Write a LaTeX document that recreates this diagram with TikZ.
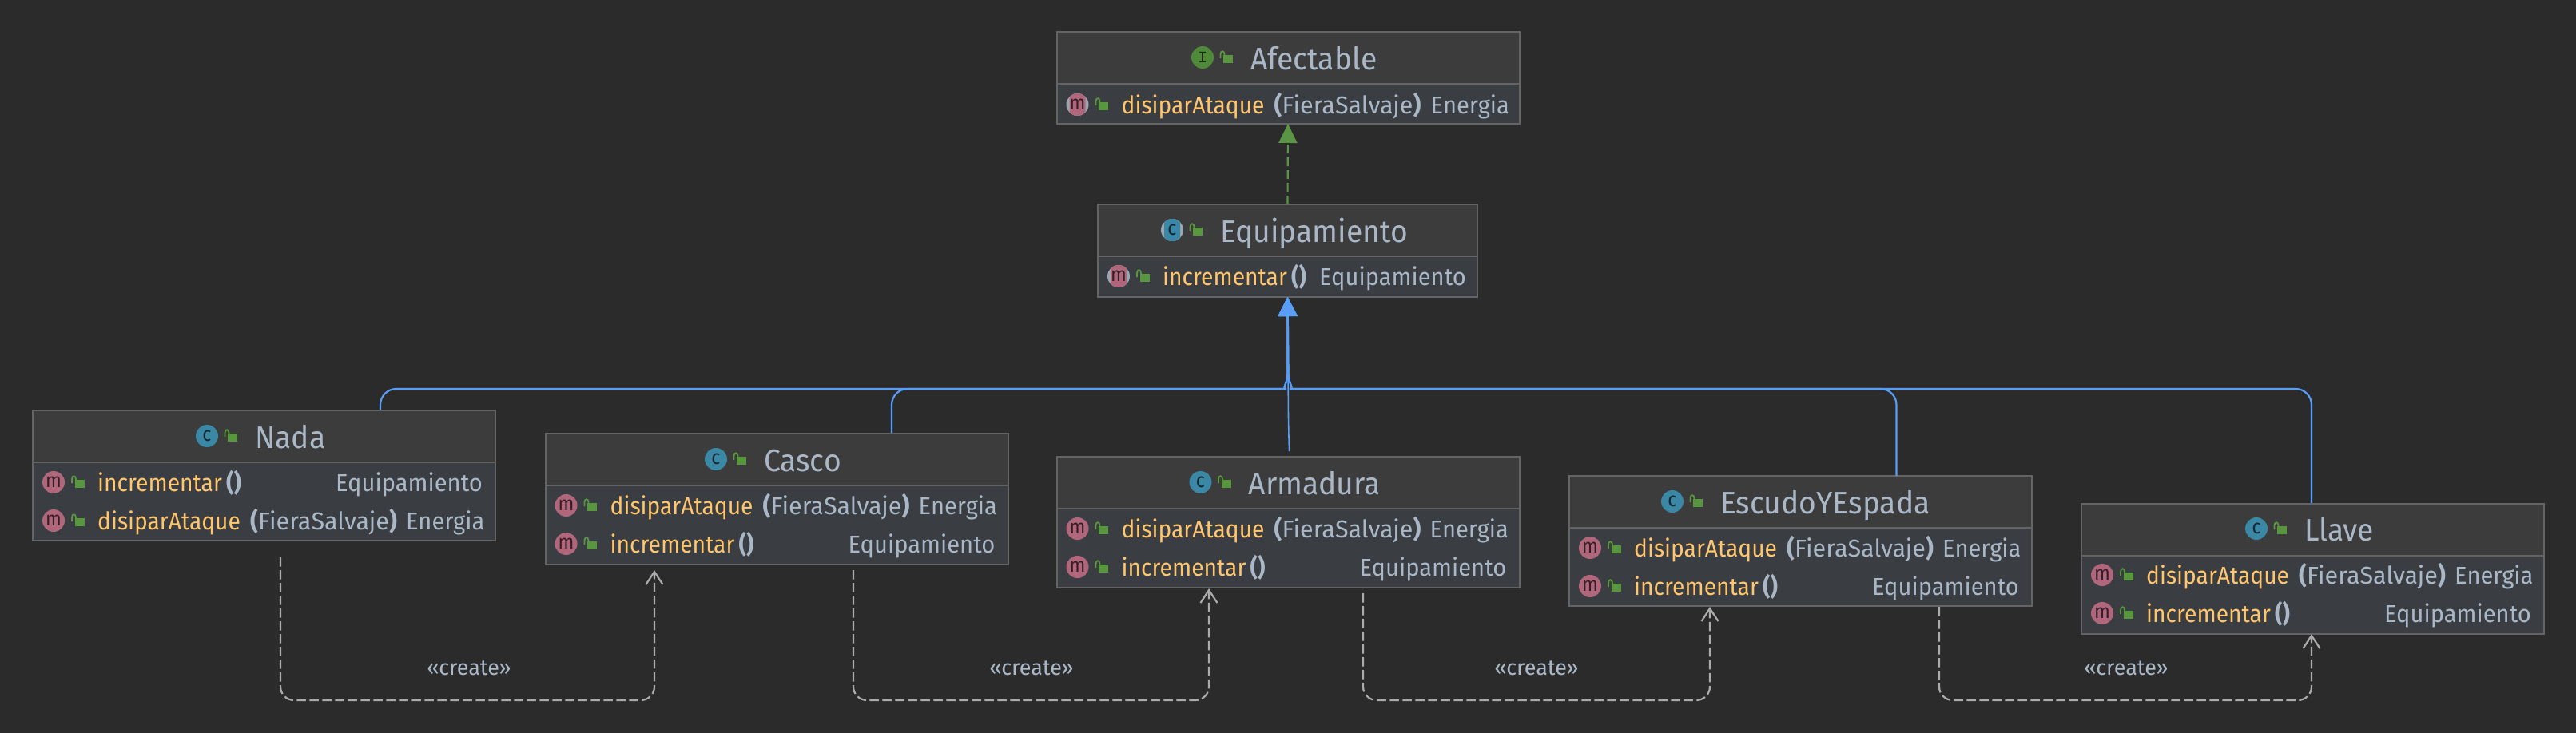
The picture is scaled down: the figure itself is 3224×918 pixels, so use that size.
\documentclass[tikz,border=0pt]{standalone}
\usepackage{fontspec}
\setmainfont[FakeStretch=0.925]{Fira Sans}
\newfontfamily\greyfam[FakeStretch=0.955]{Fira Sans}
\newfontfamily\labelfam{Fira Sans}
\newfontfamily\iconserif{Liberation Mono}
\usetikzlibrary{arrows.meta}
\definecolor{canvas}{HTML}{2B2B2B}
\definecolor{headfill}{HTML}{3C3C3C}
\definecolor{bodyfill}{HTML}{3A3E42}
\definecolor{boxline}{HTML}{646464}
\definecolor{greytext}{HTML}{A9B7C6}
\definecolor{methodtext}{HTML}{FFC66D}
\definecolor{iconmethod}{HTML}{B0677B}
\definecolor{iconclass}{HTML}{3A88A6}
\definecolor{iconface}{HTML}{4F8A38}
\definecolor{iconrim}{HTML}{9AA7B0}
\definecolor{lockgreen}{HTML}{59973F}
\definecolor{bluelink}{HTML}{589DF6}
\definecolor{greenlink}{HTML}{5A9445}
\definecolor{createline}{HTML}{ABABAB}
\tikzset{
  headbox/.style    = {shape=rectangle, draw=boxline, fill=headfill, line width=2pt,
                       inner sep=0pt, outer sep=0pt, anchor=north west, minimum height=65pt},
  bodybox/.style    = {headbox, fill=bodyfill},
  icondot/.style    = {circle, inner sep=0pt, minimum size=28pt, text=black!70!iconmethod,
                       font=\fontsize{25}{25}\selectfont},
  iconm/.style      = {icondot, fill=iconmethod},
  iconc/.style      = {icondot, fill=iconclass, text=black!70!iconclass},
  iconi/.style      = {icondot, fill=iconface, text=black!70!iconface,
                       font=\iconserif\fontsize{20}{20}\selectfont},
  iconmabs/.style   = {iconm, fill=iconrim, path picture={\fill[iconmethod, rounded corners=5pt]
                       ([xshift=-10pt,yshift=-15pt]path picture bounding box.center) rectangle
                       ([xshift=10pt,yshift=15pt]path picture bounding box.center);}},
  iconcabs/.style   = {iconc, fill=iconrim, path picture={\fill[iconclass, rounded corners=5pt]
                       ([xshift=-10pt,yshift=-15pt]path picture bounding box.center) rectangle
                       ([xshift=10pt,yshift=15pt]path picture bounding box.center);}},
  titletext/.style  = {anchor=base west, inner sep=0pt, text=greytext,
                       font=\greyfam\fontsize{39}{39}\selectfont},
  methodname/.style = {anchor=base west, inner sep=0pt, text=methodtext,
                       font=\fontsize{30.5}{30.5}\selectfont},
  plaintext/.style  = {methodname, text=greytext, font=\greyfam\fontsize{30.5}{30.5}\selectfont},
  createtext/.style = {text=greytext, inner sep=0pt, font=\labelfam\fontsize{27}{27}\selectfont},
  extendline/.style = {draw=bluelink, line width=2.2pt, rounded corners=20pt,
                       -{Triangle[length=24pt,width=24pt]}},
  implline/.style   = {draw=greenlink, line width=2.2pt, dash pattern=on 11pt off 5pt,
                       -{Triangle[length=24pt,width=23pt]}},
  createarrow/.style= {draw=createline, line width=2.2pt, rounded corners=17pt,
                       dash pattern=on 11.5pt off 4.5pt,
                       -{Straight Barb[length=16pt,width=21pt]}},
  lockpic/.pic      = {
    \fill[lockgreen] (0,-3) rectangle (12,7);
    \draw[lockgreen, line width=1.8pt] (-3.5,1) -- (-3.5,-4)
      .. controls (-3.5,-9) and (1.5,-9) .. (1.5,-4) -- (1.5,-3);
  }
}
% id, icon style, letter, icon x, icon y, title
\newcommand{\classtitle}[6]{
  \node [#2] (#1Icon) at (#4,#5) {#3};
  \pic at (#4+26,#5) {lockpic};
  \node [titletext] (#1Title) at (#4+60,#5+15) {#6};
}
% id, icon style, box left, icon y, method, args x, args, return x, return
\newcommand{\methodrow}[9]{
  \node [#2] (#1Icon) at (#3+26,#4) {m};
  \pic at (#3+52.5,#4) {lockpic};
  \node [methodname] (#1Name) at (#3+81,#4+11) {#5};
  \node [plaintext] (#1Args) at (#3+#6,#4+11) {#7};
  \node [plaintext] (#1Type) at (#3+#8,#4+11) {#9};
}
\newcommand{\fiera}{{\labelfam{\bfseries (}FieraSalvaje{\bfseries )}}}
\newcommand{\vacio}{{\bfseries ()}}

\begin{document}
\begin{tikzpicture}[x=1pt,y=-1pt]
  \fill[canvas] (0,0) rectangle (3224,918);
  \useasboundingbox (0,0) rectangle (3224,918);

  % interface and abstract class
  \node [headbox, minimum width=579pt] (afectableHead) at (1322.5,40) {};
  \node [bodybox, minimum width=579pt, minimum height=50pt] (afectableBody) at (afectableHead.south west) {};
  \classtitle{afectable}{iconi}{I}{1505}{72}{Afectable}
  \methodrow{afectableA}{iconmabs}{1322.5}{131}{disiparAtaque}{272}{\fiera}{468}{Energia}

  \node [headbox, minimum width=475pt] (equipHead) at (1374,256) {};
  \node [bodybox, minimum width=475pt, minimum height=51pt] (equipBody) at (equipHead.south west) {};
  \classtitle{equip}{iconcabs}{c}{1467}{288}{Equipamiento}
  \methodrow{equipA}{iconmabs}{1374}{346}{incrementar}{242}{\vacio}{277}{Equipamiento}

  % concrete classes
  \node [headbox, minimum width=579pt] (nadaHead) at (41,514) {};
  \node [bodybox, minimum width=579pt, minimum height=98pt] (nadaBody) at (nadaHead.south west) {};
  \classtitle{nada}{iconc}{c}{259}{546}{Nada}
  \methodrow{nadaA}{iconm}{41}{604}{incrementar}{242}{\vacio}{379}{Equipamiento}
  \methodrow{nadaB}{iconm}{41}{652}{disiparAtaque}{272}{\fiera}{467}{Energia}

  \node [headbox, minimum width=579pt] (cascoHead) at (682.5,543) {};
  \node [bodybox, minimum width=579pt, minimum height=99pt] (cascoBody) at (cascoHead.south west) {};
  \classtitle{casco}{iconc}{c}{896}{575}{Casco}
  \methodrow{cascoA}{iconm}{682.5}{633}{disiparAtaque}{272}{\fiera}{467}{Energia}
  \methodrow{cascoB}{iconm}{682.5}{681}{incrementar}{242}{\vacio}{379}{Equipamiento}

  \node [headbox, minimum width=579pt] (armaduraHead) at (1322.5,572) {};
  \node [bodybox, minimum width=579pt, minimum height=99pt] (armaduraBody) at (armaduraHead.south west) {};
  \classtitle{armadura}{iconc}{c}{1502.5}{604}{Armadura}
  \methodrow{armaduraA}{iconm}{1322.5}{662}{disiparAtaque}{272}{\fiera}{467}{Energia}
  \methodrow{armaduraB}{iconm}{1322.5}{710}{incrementar}{242}{\vacio}{379}{Equipamiento}

  \node [headbox, minimum width=579pt] (escudoHead) at (1964,596) {};
  \node [bodybox, minimum width=579pt, minimum height=98pt] (escudoBody) at (escudoHead.south west) {};
  \classtitle{escudo}{iconc}{c}{2093}{628}{EscudoYEspada}
  \methodrow{escudoA}{iconm}{1964}{686}{disiparAtaque}{272}{\fiera}{467}{Energia}
  \methodrow{escudoB}{iconm}{1964}{734}{incrementar}{242}{\vacio}{379}{Equipamiento}

  \node [headbox, minimum width=579pt] (llaveHead) at (2605,631) {};
  \node [bodybox, minimum width=579pt, minimum height=98pt] (llaveBody) at (llaveHead.south west) {};
  \classtitle{llave}{iconc}{c}{2824}{662}{Llave}
  \methodrow{llaveA}{iconm}{2605}{720}{disiparAtaque}{272}{\fiera}{467}{Energia}
  \methodrow{llaveB}{iconm}{2605}{768}{incrementar}{242}{\vacio}{379}{Equipamiento}

  % connector ends
  \coordinate (nadaTop) at (476,513);
  \coordinate (cascoTop) at (1116,542);
  \coordinate (armaduraTop) at (1613.5,565);
  \coordinate (escudoTop) at (2373.5,596);
  \coordinate (llaveTop) at (2893,630);
  \coordinate (leftBend) at (1590,487);
  \coordinate (rightBend) at (1634,487);
  \coordinate (trunkLeft) at (1611.5,468);
  \coordinate (trunkRight) at (1612.5,468);

  \draw [implline] (equipHead.north) -- (afectableBody.south);

  \draw [extendline] (nadaTop) -- (nadaTop |- leftBend) -- (leftBend)
    [sharp corners] .. controls (1604,487) and (1611.5,480) .. (trunkLeft) -- (equipBody.south);
  \draw [extendline] (cascoTop) -- (cascoTop |- leftBend) -- (leftBend)
    [sharp corners] .. controls (1604,487) and (1611.5,480) .. (trunkLeft) -- (equipBody.south);
  \draw [extendline, line width=1.6pt] (armaduraTop) -- (1612.5,530) -- (equipBody.south);
  \draw [extendline] (escudoTop) -- (escudoTop |- rightBend) -- (rightBend)
    [sharp corners] .. controls (1620,487) and (1612.5,480) .. (trunkRight) -- (equipBody.south);
  \draw [extendline] (llaveTop) -- (llaveTop |- rightBend) -- (rightBend)
    [sharp corners] .. controls (1620,487) and (1612.5,480) .. (trunkRight) -- (equipBody.south);

  \coordinate (nadaOut) at (351,698);
  \coordinate (cascoIn) at (819,714);
  \coordinate (cascoOut) at (1068,714);
  \coordinate (armaduraIn) at (1513,737);
  \coordinate (armaduraOut) at (1706,743);
  \coordinate (escudoIn) at (2140,760);
  \coordinate (escudoOut) at (2427,760);
  \coordinate (llaveIn) at (2893,794);
  \coordinate (floor) at (0,877);

  \draw [createarrow] (nadaOut) -- (nadaOut |- floor) -| (cascoIn);
  \draw [createarrow] (cascoOut) -- (cascoOut |- floor) -| (armaduraIn);
  \draw [createarrow] (armaduraOut) -- (armaduraOut |- floor) -| (escudoIn);
  \draw [createarrow] (escudoOut) -- (escudoOut |- floor) -| (llaveIn);

  \node [createtext] (createA) at (587,837) {«create»};
  \node [createtext] (createB) at (1291,837) {«create»};
  \node [createtext] (createC) at (1923,837) {«create»};
  \node [createtext] (createD) at (2661,837) {«create»};
\end{tikzpicture}
\end{document}
